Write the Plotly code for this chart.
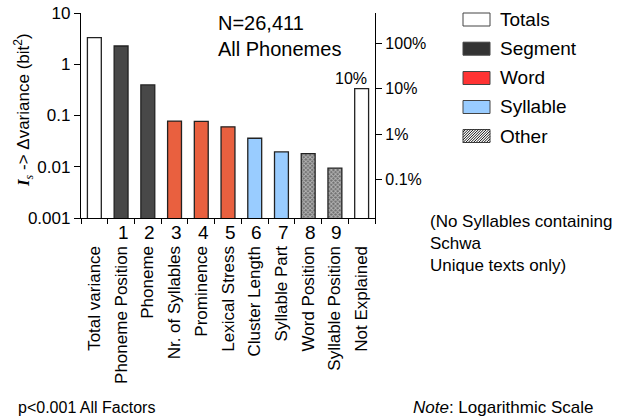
import math
import plotly.graph_objects as go

# ---------------- data ----------------
categories = ["Total variance", "Phoneme Position", "Phoneme", "Nr. of Syllables",
              "Prominence", "Lexical Stress", "Cluster Length", "Syllable Part",
              "Word Position", "Syllable Position", "Not Explained"]
factor_numbers = ["", "1", "2", "3", "4", "5", "6", "7", "8", "9", ""]
values = [3.3, 2.27, 0.395, 0.078, 0.077, 0.06, 0.036, 0.0195, 0.018, 0.0094, 0.335]
groups = ["Totals", "Segment", "Segment", "Word", "Word", "Word",
          "Syllable", "Syllable", "Other", "Other", "Totals"]
left_ticks = [0.001, 0.01, 0.1, 1, 10]
left_ticktext = ["0.001", "0.01", "0.1", "1", "10"]
right_ticks = [100, 10, 1, 0.1]
right_ticktext = ["100%", "10%", "1%", "0.1%"]
legend_items = ["Totals", "Segment", "Word", "Syllable", "Other"]
not_explained_label = "10%"

# ---------------- styles ----------------
W, H = 637, 416
L, R, T, B = 81, 375, 13, 218
FONT = "Liberation Sans, Arial, sans-serif"
bar_fill = {"Totals": "#FFFFFF", "Segment": "#484848", "Word": "#E9603F",
            "Syllable": "#99CCFF", "Other": "#6f6f6f"}
legend_fill = {"Totals": "#FFFFFF", "Segment": "#333333", "Word": "#FF3333",
               "Syllable": "#99CCFF", "Other": "#FFFFFF"}
pattern_shape = {"Other": "x"}


def px(x):
    return (x - L) / (R - L)


def py(y):
    return (B - y) / (B - T)


fig = go.Figure()
fig.add_trace(go.Bar(
    x=categories, y=values, width=0.52,
    marker=dict(
        color=[bar_fill[g] for g in groups],
        line=dict(color="#222222", width=1.3),
        pattern=dict(shape=[pattern_shape.get(g, "") for g in groups],
                     fgcolor="#1a1a1a", bgcolor="#8c8c8c", size=3, solidity=0.5),
    ),
    showlegend=False, hoverinfo="skip",
))
# percentage of total variance on the right axis (invisible carrier trace)
fig.add_trace(go.Scatter(
    x=categories, y=[v / values[0] * 100 for v in values], yaxis="y2",
    mode="markers", marker=dict(opacity=0), showlegend=False, hoverinfo="skip",
))

annotations = []
# factor numbers under the bars
for c, n in zip(categories, factor_numbers):
    if n:
        annotations.append(dict(x=c, y=0, xref="x", yref="paper", text=n,
                                showarrow=False, yanchor="top", yshift=-2, xshift=2,
                                font=dict(size=19, color="black", family=FONT)))
# 10% label
annotations.append(dict(x=categories[-1], y=math.log10(values[-1]),
                        xref="x", yref="y", text=not_explained_label, showarrow=False,
                        yanchor="bottom", xshift=-11, yshift=0,
                        font=dict(size=16, color="black", family=FONT)))
# axis title
annotations.append(dict(x=px(23), y=py(110), xref="paper", yref="paper",
                        text="<span style='font-family:Liberation Serif, Times New Roman, serif'><b><i>I</i></b><sub><i>s</i></sub></span> -&gt; Δvariance (bit<sup>2</sup>)",
                        textangle=-90, showarrow=False, xanchor="center", yanchor="middle",
                        font=dict(size=17, color="black", family=FONT)))
# N text
annotations.append(dict(x=px(216), y=py(10), xref="paper", yref="paper",
                        text="N=26,411<br>All Phonemes", showarrow=False, align="left",
                        xanchor="left", yanchor="top",
                        font=dict(size=20, color="black", family=FONT)))
# side note
annotations.append(dict(x=px(428), y=py(210), xref="paper", yref="paper",
                        text="(No Syllables containing<br>Schwa<br>Unique texts only)",
                        showarrow=False, align="left", xanchor="left", yanchor="top",
                        font=dict(size=17, color="black", family=FONT)))
# bottom texts
annotations.append(dict(x=px(16), y=py(407), xref="paper", yref="paper",
                        text="p&lt;0.001 All Factors", showarrow=False,
                        xanchor="left", yanchor="middle",
                        font=dict(size=16, color="black", family=FONT)))
annotations.append(dict(x=px(411), y=py(407), xref="paper", yref="paper",
                        text="<i>Note</i>: Logarithmic Scale", showarrow=False,
                        xanchor="left", yanchor="middle",
                        font=dict(size=17, color="black", family=FONT)))

# custom legend
shapes = []
leg_y = [19.5, 48.7, 78, 107, 136]
bx0, bx1, bh = 463, 490, 13
for name, cy in zip(legend_items, leg_y):
    y0, y1 = cy - bh / 2, cy + bh / 2
    shapes.append(dict(type="rect", xref="paper", yref="paper",
                       x0=px(bx0), x1=px(bx1), y0=py(y1), y1=py(y0),
                       fillcolor=legend_fill[name], line=dict(color="#444444", width=1)))
    if name == "Other":
        step = 2.6
        c = -bh
        while c < (bx1 - bx0):
            xs = max(bx0, bx0 + c)
            xe = min(bx1, bx0 + c + bh)
            if xe > xs:
                ys = y1 - (xs - bx0 - c)
                ye = y1 - (xe - bx0 - c)
                shapes.append(dict(type="line", xref="paper", yref="paper",
                                   x0=px(xs), x1=px(xe), y0=py(ys), y1=py(ye),
                                   line=dict(color="#111111", width=1)))
            c += step
    annotations.append(dict(x=px(498), y=py(cy), xref="paper", yref="paper",
                            text=name, showarrow=False, xanchor="left", yanchor="middle",
                            font=dict(size=19, color="black", family=FONT)))

fig.update_layout(
    width=W, height=H,
    margin=dict(l=L, r=W - R, t=T, b=H - B, autoexpand=False),
    plot_bgcolor="white", paper_bgcolor="white",
    font=dict(family=FONT, color="black"),
    bargap=0.48,
    xaxis=dict(type="category", range=[-0.5, len(categories) - 0.5],
               showline=True, linecolor="black", linewidth=1.3,
               ticks="outside", tickson="boundaries", ticklen=5, tickcolor="black",
               tickangle=-90, ticklabelstandoff=20,
               tickfont=dict(size=17, family=FONT, color="black"),
               showgrid=False, zeroline=False, fixedrange=True),
    yaxis=dict(type="log", range=[-3, 1], tickvals=left_ticks, ticktext=left_ticktext,
               showline=True, linecolor="black", linewidth=1.3,
               ticks="outside", ticklen=6, tickcolor="black",
               tickfont=dict(size=17, family=FONT, color="black"),
               showgrid=False, zeroline=False),
    yaxis2=dict(type="log", range=[-1.854, 2.671], overlaying="y", side="right",
                tickvals=right_ticks, ticktext=right_ticktext,
                showline=True, linecolor="black", linewidth=1.3,
                ticks="outside", ticklen=6, tickcolor="black",
                tickfont=dict(size=16, family=FONT, color="black"),
                showgrid=False, zeroline=False),
    annotations=annotations, shapes=shapes,
)

fig.write_html("out.html", config={"displayModeBar": False},
               post_script="document.body.style.margin='0px';document.body.style.padding='0px';")
